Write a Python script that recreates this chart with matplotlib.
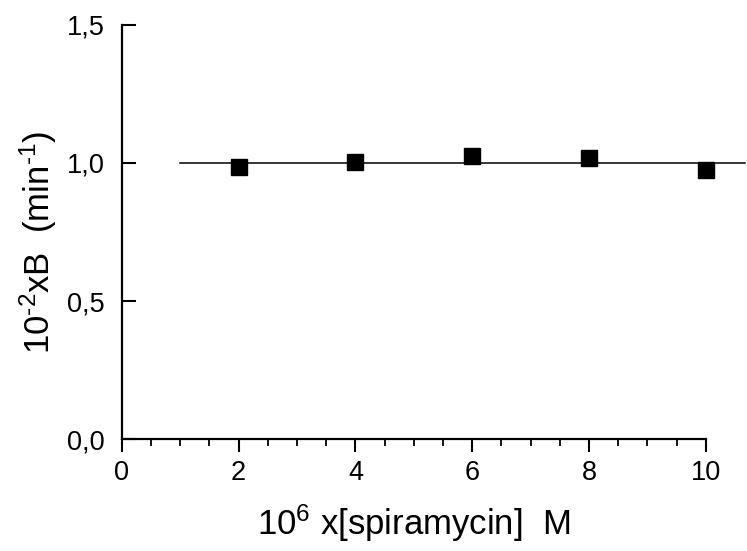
import numpy as np
import matplotlib
matplotlib.use('Agg')
from matplotlib import pyplot as plt
from matplotlib.ticker import MultipleLocator

plt.rcParams['font.family'] = ['Liberation Sans', 'DejaVu Sans']
plt.rcParams['mathtext.fontset'] = 'custom'
plt.rcParams['mathtext.rm'] = 'Liberation Sans'
plt.rcParams['mathtext.default'] = 'regular'

# data
conc = [2, 4, 6, 8, 10]                 # 10^6 x [spiramycin] M
bval = [0.987, 1.002, 1.024, 1.016, 0.975]
fit_x = [1.0, 10.67]
fit_y = [1.0, 1.0]

xticks = [0, 2, 4, 6, 8, 10]
yticks = [0.0, 0.5, 1.0, 1.5]
yticklabels = ['0,0', '0,5', '1,0', '1,5']

fig = plt.figure(figsize=(7.47, 5.51), dpi=100)
ax = fig.add_axes([0.163, 0.203, 0.782, 0.752])

ax.plot(fit_x, fit_y, color='black', lw=1.1, clip_on=False)
ax.plot(conc, bval, 's', color='black', ms=11, clip_on=False)

ax.set_xlim(0, 10)
ax.set_ylim(0, 1.5)
ax.set_xticks(xticks)
ax.set_xticklabels([str(t) for t in xticks])
ax.set_yticks(yticks)
ax.set_yticklabels(yticklabels)
ax.xaxis.set_minor_locator(MultipleLocator(0.5))

for s in ['top', 'right']:
    ax.spines[s].set_visible(False)
for s in ['left', 'bottom']:
    ax.spines[s].set_linewidth(1.6)

ax.tick_params(axis='x', which='major', direction='out', length=9, width=1.5, labelsize=19.5, pad=6)
ax.tick_params(axis='x', which='minor', direction='out', length=5, width=1.3)
ax.tick_params(axis='y', which='major', direction='in', length=10, width=1.5, labelsize=19.5, pad=12)

ax.set_xlabel(r'10$^{6}$ x[spiramycin]  M', fontsize=25, va='top')
ax.xaxis.set_label_coords(0.5, -0.152)
ax.set_ylabel(r'10$^{\text{-2}}$xB  (min$^{\text{-1}}$)', fontsize=25)
ax.yaxis.set_label_coords(-0.107, 0.476)

plt.savefig('out.png', dpi=100)
